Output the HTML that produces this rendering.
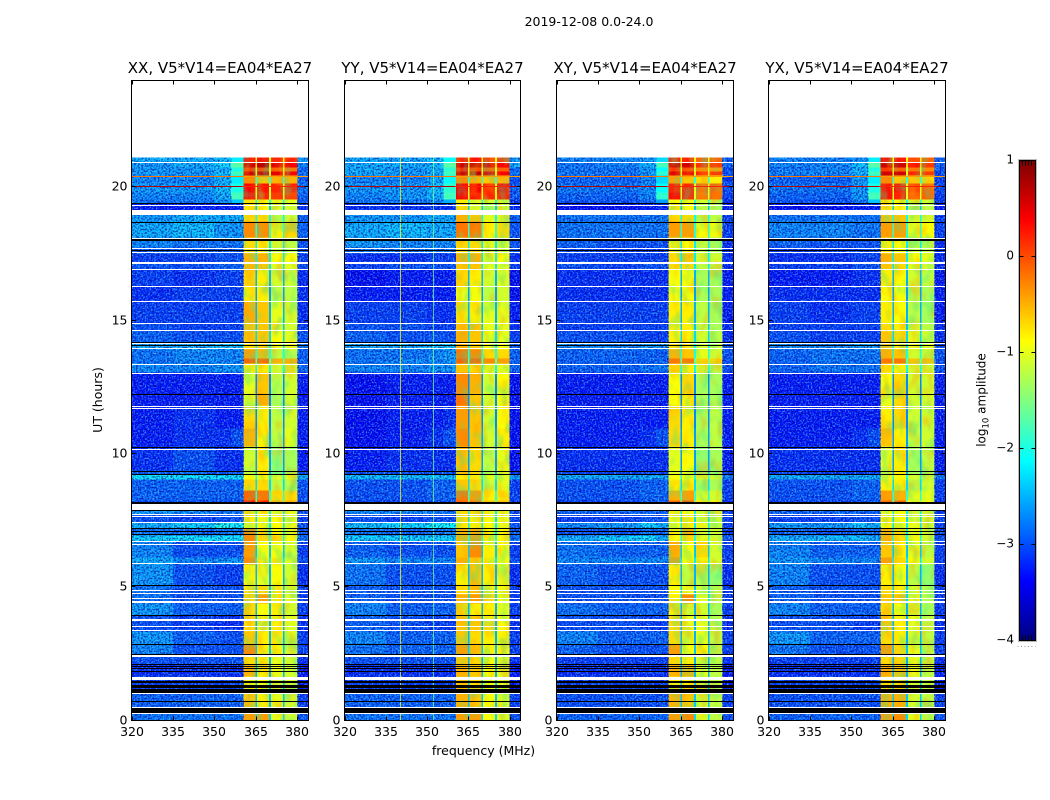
<!DOCTYPE html>
<html lang="en">
<head>
<meta charset="utf-8">
<title>2019-12-08 0.0-24.0</title>
<style>
html,body{margin:0;padding:0;background:#fff;}
svg{display:block;font-family:"DejaVu Sans","Liberation Sans",sans-serif;fill:#000;}
</style>
</head>
<body>
<svg id="chart" xmlns="http://www.w3.org/2000/svg" width="1050" height="800" viewBox="0 0 1050 800">
<defs>
<filter id="speckle" x="0" y="0" width="100%" height="100%" color-interpolation-filters="sRGB">
<feTurbulence type="fractalNoise" baseFrequency="0.62" numOctaves="1" seed="4"/>
<feColorMatrix type="matrix" values="0 0 0 0 0.4  0 0 0 0 0.9  0 0 0 0 1  5 0 0 0 -2.3"/>
</filter>
<filter id="speckle-dark" x="0" y="0" width="100%" height="100%" color-interpolation-filters="sRGB">
<feTurbulence type="fractalNoise" baseFrequency="0.55" numOctaves="1" seed="11"/>
<feColorMatrix type="matrix" values="0 0 0 0 0  0 0 0 0 0  0 0 0 0 .6  5 0 0 0 -2.3"/>
</filter>
<filter id="mottle-warm" x="0" y="0" width="100%" height="100%" color-interpolation-filters="sRGB">
<feTurbulence type="fractalNoise" baseFrequency="0.09 0.05" numOctaves="2" seed="7"/>
<feColorMatrix type="matrix" values="0 0 0 0 1  0 0 0 0 .6  0 0 0 0 0  4 0 0 0 -1.9"/>
</filter>
<filter id="mottle-cool" x="0" y="0" width="100%" height="100%" color-interpolation-filters="sRGB">
<feTurbulence type="fractalNoise" baseFrequency="0.11 0.06" numOctaves="2" seed="23"/>
<feColorMatrix type="matrix" values="0 0 0 0 .2  0 0 0 0 .9  0 0 0 0 .6  4 0 0 0 -1.9"/>
</filter>
</defs>
<text x="589" y="26" font-size="12.5" text-anchor="middle">2019-12-08 0.0-24.0</text>
<text x="483.5" y="755" font-size="12.5" text-anchor="middle">frequency (MHz)</text>
<text transform="translate(102,400) rotate(-90)" font-size="12.5" text-anchor="middle">UT (hours)</text>
<text transform="translate(985.5,400) rotate(-90)" font-size="12" text-anchor="middle">log<tspan font-size="8.5" dy="3">10</tspan><tspan dy="-3"> amplitude</tspan></text>
</svg>
<script>
// ---- axis ticks (MHz, hours, log10 amplitude) ----
const xTicks = [320, 335, 350, 365, 380];
const yTicks = [0, 5, 10, 15, 20];
const cbarTicks = [1, 0, -1, -2, -3, -4];
const panelTitles = ["XX, V5*V14=EA04*EA27", "YY, V5*V14=EA04*EA27", "XY, V5*V14=EA04*EA27", "YX, V5*V14=EA04*EA27"];
// ---- frequency bin edges (MHz) for the matrix columns ----
const freqEdges = [320, 335, 350, 356, 360.5, 365, 370, 375, 380, 384];
// ---- UT bin edges (hours) for the matrix rows, top to bottom ----
const utEdges = [21.11,20.91,20.74,20.59,20.44,20.14,19.80,19.54,19.39,19.16,18.98,18.71,18.11,17.74,17.51,17.18,16.91,16.28,15.71,14.89,14.59,14.18,13.91,13.58,13.39,13.05,12.26,11.81,10.95,10.28,9.38,9.23,9.04,8.63,8.25,8.14,7.91,7.73,7.43,7.20,6.94,6.71,6.11,5.85,5.06,4.73,4.39,3.94,3.34,2.85,2.48,2.10,1.65,1.01,0.49,0];
// ---- narrow band-edge channels (MHz) and their log10 level per row ----
const gapChannels = [[364.9,365.4],[369.8,370.4],[374.8,375.4]];
const gapValues = [-0.9,-0.7,-1.2,-0.8,-1.9,-1.0,-1.0,-2.0,-2.4,-2.4,-2.1,-1.9,-2.2,-2.3,-2.2,-2.2,-2.5,-2.6,-2.5,-2.4,-2.3,-2.2,-2.0,-1.6,-2.1,-2.7,-2.7,-2.7,-2.6,-2.6,-2.5,-2.0,-2.3,-1.9,-1.5,-1.5,-2.2,-2.3,-2.2,-2.2,-2.0,-2.4,-2.2,-2.5,-2.4,-2.3,-2.5,-2.5,-2.5,-2.4,-2.5,-2.5,-2.4,-2.4,-2.3];
// ---- log10 amplitude, one row per UT bin, one column per frequency bin ----
const xxValues = [
[-2.5,-2.5,-2.4,-2.2,0.3,0.3,0.2,0.2,-2.6],[-2.6,-2.5,-2.3,-1.7,0.6,0.7,0.5,0.4,-2.7],[-2.6,-2.6,-2.5,-2.0,0.1,0.0,-0.1,-0.2,-2.9],[-2.6,-2.6,-2.4,-1.8,0.6,0.6,0.5,0.4,-2.8],[-2.7,-2.7,-2.5,-2.2,-0.3,-0.6,-0.5,-0.5,-2.9],
[-2.6,-2.6,-2.4,-2.0,0.4,0.3,0.2,0.2,-2.8],[-2.7,-2.7,-2.5,-1.8,0.3,0.2,0.1,0.1,-2.9],[-2.8,-2.8,-2.6,-2.4,-0.8,-0.9,-1.0,-1.0,-3.0],[-3.3,-3.3,-3.3,-3.3,-0.8,-0.9,-1.1,-1.1,-3.2],[-3.3,-3.3,-3.3,-3.3,-0.8,-0.9,-1.1,-1.1,-3.2],
[-2.6,-2.5,-2.5,-2.5,-0.7,-0.7,-1.2,-1.1,-2.9],[-2.5,-2.4,-2.6,-2.6,-0.3,-0.3,-0.8,-0.7,-2.9],[-2.7,-2.8,-2.8,-2.8,-0.7,-0.8,-1.1,-1.2,-3.0],[-2.9,-2.9,-2.9,-2.9,-0.7,-0.8,-1.2,-1.2,-3.0],[-3.1,-3.1,-3.0,-3.0,-0.5,-0.5,-0.9,-0.9,-3.1],
[-3.0,-3.0,-2.9,-2.9,-0.6,-0.6,-1.0,-1.0,-3.0],[-3.1,-3.2,-3.1,-3.1,-0.7,-0.8,-1.1,-1.1,-3.2],[-3.2,-3.1,-3.1,-3.1,-0.8,-0.8,-1.2,-1.2,-3.2],[-3.1,-3.1,-3.1,-3.1,-0.5,-0.6,-1.0,-1.1,-3.2],[-3.0,-3.1,-3.1,-3.1,-0.6,-0.6,-1.0,-1.1,-3.1],
[-2.9,-3.0,-3.0,-3.0,-0.6,-0.6,-0.9,-1.0,-3.0],[-2.5,-2.5,-2.4,-2.4,-0.7,-0.7,-1.0,-1.0,-2.8],[-2.8,-2.7,-2.7,-2.7,-0.4,-0.6,-1.2,-1.2,-2.9],[-2.8,-2.7,-2.7,-2.7,-0.1,-0.1,-0.5,-0.5,-2.9],[-2.7,-2.7,-2.6,-2.6,-0.8,-0.8,-1.1,-1.1,-2.9],
[-3.3,-3.3,-3.3,-3.3,-1.0,-0.6,-1.2,-1.1,-3.3],[-3.3,-3.3,-3.3,-3.3,-1.0,-0.5,-1.3,-1.1,-3.3],[-3.3,-3.2,-3.3,-3.3,-0.7,-0.8,-1.2,-1.1,-3.3],[-3.3,-3.2,-3.2,-3.0,-0.5,-0.8,-1.2,-1.0,-3.3],[-3.2,-3.0,-3.2,-3.2,-1.1,-0.8,-1.4,-1.3,-3.3],
[-2.9,-2.9,-3.0,-3.0,-1.1,-0.8,-1.4,-1.3,-3.0],[-2.2,-2.2,-2.2,-2.2,-0.9,-0.9,-1.0,-1.0,-2.5],[-2.9,-2.9,-2.9,-2.9,-0.7,-0.7,-1.2,-1.2,-3.0],[-2.9,-2.9,-2.9,-2.9,-0.1,-0.2,-0.7,-0.7,-3.0],[-3.0,-3.0,-3.0,-3.0,0.3,0.3,-0.5,-0.5,-3.1],
[-3.0,-3.0,-3.0,-3.0,0.3,0.3,-0.5,-0.5,-3.1],[-2.6,-2.7,-2.8,-2.8,-0.8,-0.8,-1.0,-1.0,-3.0],[-3.0,-3.1,-3.0,-3.0,-0.8,-0.9,-0.9,-1.0,-3.1],[-2.5,-2.3,-2.0,-2.1,-0.9,-0.9,-0.9,-1.0,-3.0],[-2.8,-2.9,-2.8,-2.8,-0.3,-0.7,-0.9,-1.0,-3.0],
[-2.3,-2.2,-2.2,-2.2,-0.3,-0.7,-0.7,-0.9,-2.8],[-2.7,-3.0,-3.0,-3.0,-0.4,-0.9,-0.9,-1.1,-3.1],[-2.5,-2.7,-2.6,-2.6,-0.3,-0.8,-0.8,-1.0,-3.0],[-2.6,-3.0,-3.1,-3.1,-0.9,-1.0,-0.9,-1.1,-3.2],[-2.8,-3.0,-3.0,-3.0,-0.8,-0.7,-0.8,-1.0,-3.1],
[-2.8,-3.0,-3.0,-3.0,-0.7,-0.4,-0.8,-1.0,-3.1],[-2.6,-2.9,-2.9,-2.9,-0.7,-0.9,-0.8,-1.1,-3.1],[-3.0,-3.1,-3.2,-3.2,-0.7,-0.8,-0.8,-1.0,-3.2],[-2.6,-2.9,-3.0,-3.0,-0.6,-0.8,-0.8,-1.0,-3.1],[-2.7,-3.0,-3.0,-3.0,-0.3,-0.8,-0.9,-1.1,-3.1],
[-3.0,-3.0,-3.0,-3.0,-0.7,-0.8,-1.0,-1.1,-3.2],[-3.2,-3.2,-3.2,-3.2,-0.5,-0.8,-1.0,-1.1,-3.3],[-3.1,-3.1,-3.1,-3.1,-0.8,-0.9,-1.1,-1.1,-3.3],[-2.9,-2.9,-2.9,-2.9,-0.6,-0.8,-1.0,-1.1,-3.1],[-2.8,-2.8,-2.8,-2.8,-0.4,-0.4,-1.0,-1.1,-3.0]
];
const yyValues = [
[-2.5,-2.5,-2.4,-2.1,0.2,0.3,0.1,0.1,-2.6],[-2.5,-2.5,-2.4,-1.7,0.6,0.7,0.5,0.4,-2.5],[-2.5,-2.6,-2.5,-1.9,0.2,0.1,-0.1,-0.1,-2.9],[-2.5,-2.6,-2.5,-1.8,0.6,0.7,0.5,0.4,-2.8],[-2.7,-2.7,-2.5,-2.1,-0.3,-0.5,-0.6,-0.5,-3.0],
[-2.6,-2.6,-2.4,-1.9,0.4,0.4,0.2,0.3,-2.9],[-2.7,-2.6,-2.5,-1.8,0.4,0.3,0.2,0.2,-3.0],[-2.8,-2.8,-2.7,-2.5,-0.8,-1.0,-1.0,-1.1,-3.1],[-3.2,-3.2,-3.2,-3.2,-0.7,-1.0,-1.2,-1.1,-3.2],[-3.2,-3.2,-3.2,-3.2,-0.7,-1.0,-1.2,-1.1,-3.2],
[-2.6,-2.6,-2.5,-2.5,-0.5,-0.6,-1.0,-1.0,-2.9],[-2.5,-2.4,-2.5,-2.5,-0.2,-0.2,-0.8,-0.7,-3.0],[-2.6,-2.7,-2.7,-2.7,-0.7,-0.7,-1.0,-1.1,-3.0],[-2.8,-2.8,-2.8,-2.8,-0.7,-0.7,-1.1,-1.1,-3.0],[-3.2,-3.2,-3.1,-3.1,-0.5,-0.5,-0.9,-0.9,-3.2],
[-3.1,-3.0,-3.0,-3.0,-0.6,-0.6,-1.0,-1.0,-3.1],[-3.4,-3.3,-3.3,-3.3,-0.7,-0.8,-1.1,-1.0,-3.4],[-3.3,-3.3,-3.3,-3.3,-1.0,-0.9,-1.2,-1.1,-3.4],[-3.1,-3.1,-3.2,-3.2,-0.8,-0.8,-1.0,-1.0,-3.3],[-3.0,-3.0,-3.1,-3.1,-0.6,-0.6,-1.0,-1.0,-3.2],
[-2.9,-3.0,-3.0,-3.0,-0.5,-0.6,-0.9,-1.0,-3.1],[-2.5,-2.5,-2.4,-2.4,-0.5,-0.6,-0.9,-0.9,-2.9],[-2.8,-2.8,-2.7,-2.6,-0.2,-0.3,-0.7,-0.7,-2.9],[-2.8,-2.7,-2.7,-2.6,-0.1,-0.1,-0.3,-0.4,-2.9],[-2.7,-2.7,-2.6,-2.6,-0.6,-0.7,-1.0,-1.0,-2.9],
[-3.4,-3.3,-3.3,-3.3,-0.3,-0.5,-1.1,-0.9,-3.4],[-3.4,-3.3,-3.3,-3.3,-0.2,-0.6,-1.1,-0.9,-3.4],[-3.4,-3.3,-3.3,-3.2,-0.4,-0.6,-1.1,-0.9,-3.4],[-3.4,-3.3,-3.2,-3.0,-0.3,-0.6,-1.1,-0.8,-3.4],[-3.3,-3.2,-3.2,-3.2,-0.6,-0.7,-1.2,-1.0,-3.4],
[-3.0,-3.0,-3.0,-3.0,-0.6,-0.7,-1.2,-1.0,-3.2],[-2.4,-2.4,-2.4,-2.4,-0.8,-0.8,-1.0,-1.0,-2.6],[-3.0,-3.0,-2.9,-2.9,-0.6,-0.7,-1.1,-1.0,-3.1],[-3.0,-3.0,-2.9,-2.9,-0.2,-0.4,-0.8,-0.8,-3.1],[-3.1,-3.1,-3.0,-3.0,-0.1,-0.2,-0.6,-0.6,-3.1],
[-3.1,-3.1,-3.0,-3.0,-0.1,-0.2,-0.6,-0.6,-3.1],[-2.7,-2.7,-2.8,-2.8,-0.7,-0.7,-0.9,-1.0,-3.0],[-3.0,-3.1,-3.0,-3.0,-0.7,-0.8,-0.9,-1.0,-3.1],[-2.4,-2.3,-2.1,-2.1,-0.8,-0.8,-0.9,-1.0,-3.0],[-2.8,-2.9,-2.8,-2.8,-0.5,-0.5,-0.9,-0.9,-3.0],
[-2.3,-2.3,-2.3,-2.3,-0.5,-0.4,-0.8,-0.9,-2.8],[-2.9,-3.0,-3.0,-3.0,-0.6,-0.3,-0.8,-0.9,-3.1],[-2.6,-2.7,-2.7,-2.7,-0.5,-0.6,-0.8,-0.9,-3.0],[-2.8,-3.0,-3.0,-3.0,-0.8,-0.6,-0.8,-1.0,-3.2],[-2.9,-3.0,-3.0,-3.0,-0.7,-0.6,-0.8,-0.9,-3.1],
[-2.9,-3.0,-3.0,-3.0,-0.5,-0.4,-0.7,-0.9,-3.1],[-2.7,-2.9,-2.9,-2.9,-0.7,-0.8,-0.8,-1.0,-3.1],[-2.9,-3.0,-3.1,-3.1,-0.6,-0.6,-0.8,-0.9,-3.2],[-2.7,-2.9,-2.9,-2.9,-0.6,-0.7,-0.8,-0.9,-3.1],[-2.8,-2.9,-2.9,-2.9,-0.4,-0.6,-0.8,-0.9,-3.1],
[-3.0,-3.0,-3.0,-3.0,-0.6,-0.7,-0.9,-1.0,-3.2],[-3.2,-3.2,-3.2,-3.2,-0.5,-0.6,-0.9,-1.0,-3.3],[-3.1,-3.1,-3.1,-3.1,-0.6,-0.7,-0.9,-1.0,-3.3],[-2.9,-2.9,-2.9,-2.9,-0.5,-0.6,-0.9,-1.0,-3.1],[-2.8,-2.8,-2.8,-2.8,-0.4,-0.4,-0.9,-1.0,-3.0]
];
const xyValues = [
[-2.7,-2.7,-2.6,-2.3,0.2,0.2,-0.1,-0.1,-2.9],[-2.8,-2.7,-2.5,-1.8,0.6,0.6,0.2,0.1,-2.9],[-2.8,-2.8,-2.6,-2.1,0.1,0.0,-0.3,-0.4,-3.0],[-2.8,-2.8,-2.6,-1.9,0.5,0.5,0.2,0.1,-3.0],[-2.9,-2.9,-2.7,-2.3,-0.4,-0.6,-0.7,-0.8,-3.1],
[-2.8,-2.8,-2.7,-2.1,0.2,0.2,-0.1,-0.1,-3.0],[-2.9,-2.9,-2.7,-1.9,0.3,0.2,-0.2,-0.1,-3.1],[-3.0,-3.0,-2.9,-2.6,-0.9,-0.9,-1.1,-1.2,-3.2],[-3.4,-3.4,-3.3,-3.3,-0.8,-0.9,-1.2,-1.3,-3.3],[-3.4,-3.4,-3.3,-3.3,-0.8,-0.9,-1.2,-1.3,-3.3],
[-2.8,-2.8,-2.8,-2.8,-0.7,-0.7,-1.2,-1.2,-3.1],[-2.8,-2.8,-2.8,-2.8,-0.4,-0.4,-0.9,-0.9,-3.1],[-2.9,-3.0,-3.0,-3.0,-0.8,-0.9,-1.2,-1.3,-3.2],[-3.0,-3.1,-3.1,-3.1,-0.8,-0.9,-1.2,-1.3,-3.2],[-3.1,-3.1,-3.1,-3.1,-0.7,-0.6,-1.1,-1.1,-3.2],
[-3.0,-3.1,-3.0,-3.0,-0.7,-0.7,-1.2,-1.2,-3.2],[-3.2,-3.2,-3.2,-3.2,-0.9,-0.9,-1.3,-1.3,-3.3],[-3.2,-3.2,-3.2,-3.2,-0.9,-0.9,-1.3,-1.3,-3.3],[-3.1,-3.1,-3.1,-3.1,-0.8,-0.8,-1.2,-1.3,-3.3],[-3.1,-3.1,-3.1,-3.1,-0.8,-0.8,-1.2,-1.3,-3.2],
[-3.0,-3.0,-3.1,-3.1,-0.8,-0.8,-1.1,-1.2,-3.2],[-2.7,-2.7,-2.6,-2.6,-0.7,-0.8,-1.1,-1.1,-3.0],[-2.9,-2.9,-2.9,-2.9,-0.5,-0.6,-1.0,-1.1,-3.0],[-2.9,-2.9,-2.9,-2.9,-0.2,-0.2,-0.7,-0.7,-3.0],[-2.9,-2.9,-2.8,-2.8,-0.7,-0.8,-1.1,-1.2,-3.0],
[-3.3,-3.3,-3.3,-3.3,-0.9,-0.7,-1.3,-1.3,-3.3],[-3.3,-3.3,-3.3,-3.3,-0.9,-0.8,-1.3,-1.3,-3.3],[-3.3,-3.3,-3.3,-3.3,-0.7,-0.8,-1.3,-1.2,-3.3],[-3.3,-3.3,-3.2,-3.0,-0.7,-0.8,-1.3,-1.2,-3.3],[-3.2,-3.2,-3.2,-3.2,-1.0,-0.9,-1.4,-1.3,-3.3],
[-3.1,-3.1,-3.1,-3.1,-1.0,-0.9,-1.4,-1.3,-3.2],[-2.5,-2.5,-2.5,-2.5,-0.9,-0.9,-1.1,-1.1,-2.8],[-3.0,-3.0,-2.9,-2.9,-0.8,-0.8,-1.3,-1.3,-3.1],[-3.0,-3.0,-2.9,-2.9,-0.5,-0.4,-1.1,-1.1,-3.1],[-3.1,-3.1,-3.0,-3.0,-0.1,0.0,-0.8,-0.8,-3.2],
[-3.1,-3.1,-3.0,-3.0,-0.1,0.0,-0.8,-0.8,-3.2],[-2.9,-2.9,-2.9,-2.9,-0.9,-0.9,-1.1,-1.1,-3.1],[-3.1,-3.1,-3.0,-3.0,-0.9,-0.8,-1.1,-1.1,-3.1],[-2.7,-2.6,-2.3,-2.5,-0.9,-0.8,-1.0,-1.1,-3.1],[-3.0,-3.0,-2.9,-2.9,-0.8,-0.5,-1.1,-1.1,-3.1],
[-2.5,-2.3,-2.2,-2.5,-0.9,-0.7,-1.0,-1.1,-3.0],[-2.8,-2.9,-2.9,-2.9,-0.5,-0.9,-0.7,-1.1,-3.1],[-2.7,-2.7,-2.7,-2.7,-0.4,-0.9,-0.8,-1.1,-3.1],[-2.9,-3.0,-3.0,-3.0,-0.8,-1.2,-1.2,-1.4,-3.2],[-3.0,-3.0,-3.0,-3.0,-0.9,-1.0,-1.1,-1.2,-3.1],
[-3.0,-3.0,-3.0,-3.0,-0.8,-0.3,-1.0,-1.2,-3.1],[-2.8,-2.9,-2.9,-2.9,-0.8,-1.1,-1.1,-1.3,-3.1],[-3.0,-3.0,-3.1,-3.1,-0.7,-1.0,-1.0,-1.2,-3.2],[-2.7,-2.9,-2.9,-2.9,-0.7,-1.0,-1.0,-1.2,-3.1],[-2.9,-3.0,-3.0,-3.0,-0.4,-0.9,-0.9,-1.2,-3.1],
[-3.1,-3.1,-3.1,-3.1,-0.7,-0.8,-1.1,-1.2,-3.2],[-3.2,-3.2,-3.2,-3.2,-0.5,-0.5,-1.0,-1.2,-3.3],[-3.1,-3.1,-3.1,-3.1,-0.8,-0.8,-1.1,-1.2,-3.3],[-3.0,-3.0,-3.0,-3.0,-0.5,-0.6,-1.1,-1.2,-3.1],[-2.9,-2.9,-2.9,-2.9,-0.4,-0.3,-1.0,-1.2,-3.0]
];
const yxValues = [
[-2.7,-2.7,-2.6,-2.2,0.3,0.3,0.0,-0.1,-2.9],[-2.7,-2.7,-2.4,-1.7,0.6,0.6,0.3,0.1,-2.9],[-2.8,-2.7,-2.5,-2.0,0.1,-0.1,-0.2,-0.3,-3.0],[-2.7,-2.7,-2.5,-1.8,0.6,0.6,0.2,0.1,-3.0],[-2.9,-2.9,-2.6,-2.2,-0.3,-0.6,-0.6,-0.7,-3.1],
[-2.8,-2.8,-2.6,-2.0,0.3,0.3,0.0,-0.1,-3.0],[-2.9,-2.9,-2.6,-1.8,0.3,0.2,-0.1,-0.1,-3.1],[-3.0,-3.0,-2.8,-2.4,-0.8,-0.9,-1.0,-1.1,-3.1],[-3.4,-3.4,-3.3,-3.3,-0.8,-0.9,-1.2,-1.2,-3.3],[-3.4,-3.4,-3.3,-3.3,-0.8,-0.9,-1.2,-1.2,-3.3],
[-2.8,-2.8,-2.8,-2.8,-0.6,-0.6,-1.1,-1.1,-3.1],[-2.7,-2.7,-2.8,-2.8,-0.4,-0.4,-1.0,-0.9,-3.1],[-2.9,-3.0,-3.0,-3.0,-0.8,-0.9,-1.2,-1.2,-3.2],[-3.1,-3.1,-3.0,-3.0,-0.8,-0.9,-1.1,-1.2,-3.2],[-3.2,-3.2,-3.1,-3.1,-0.5,-0.6,-0.9,-1.0,-3.2],
[-3.1,-3.1,-3.0,-3.0,-0.6,-0.7,-1.0,-1.1,-3.2],[-3.3,-3.3,-3.2,-3.2,-0.8,-0.9,-1.1,-1.2,-3.3],[-3.2,-3.2,-3.2,-3.2,-0.9,-0.9,-1.2,-1.3,-3.3],[-3.1,-3.2,-3.1,-3.1,-0.8,-0.9,-1.2,-1.3,-3.3],[-3.1,-3.1,-3.1,-3.1,-0.7,-0.8,-1.1,-1.2,-3.2],
[-3.0,-3.1,-3.1,-3.1,-0.6,-0.7,-1.0,-1.1,-3.2],[-2.7,-2.7,-2.6,-2.6,-0.6,-0.8,-1.0,-1.0,-3.0],[-2.9,-2.8,-2.8,-2.8,-0.5,-0.6,-1.1,-1.1,-3.0],[-2.9,-2.8,-2.8,-2.8,-0.2,-0.2,-0.6,-0.6,-3.0],[-2.9,-2.8,-2.8,-2.8,-0.7,-0.8,-1.1,-1.1,-3.0],
[-3.3,-3.3,-3.3,-3.3,-0.9,-0.7,-1.1,-1.1,-3.3],[-3.3,-3.3,-3.3,-3.3,-1.0,-0.7,-1.1,-1.1,-3.3],[-3.3,-3.3,-3.3,-3.3,-0.8,-0.7,-1.1,-1.1,-3.3],[-3.3,-3.3,-3.2,-3.0,-0.6,-0.8,-1.2,-1.1,-3.3],[-3.2,-3.2,-3.2,-3.2,-1.0,-0.8,-1.3,-1.2,-3.3],
[-3.1,-3.1,-3.1,-3.1,-1.0,-0.8,-1.3,-1.2,-3.2],[-2.5,-2.5,-2.5,-2.5,-0.9,-0.9,-1.1,-1.1,-2.8],[-3.0,-3.0,-2.9,-2.9,-0.8,-0.8,-1.2,-1.1,-3.1],[-3.0,-3.0,-2.9,-2.9,-0.4,-0.5,-1.0,-1.0,-3.1],[-3.1,-3.1,-3.0,-3.0,-0.1,-0.1,-0.9,-0.9,-3.2],
[-3.1,-3.1,-3.0,-3.0,-0.1,-0.1,-0.9,-0.9,-3.2],[-2.9,-2.9,-2.9,-2.9,-0.9,-0.9,-1.1,-1.1,-3.1],[-3.1,-3.1,-3.0,-3.0,-0.8,-0.9,-1.1,-1.1,-3.1],[-2.6,-2.6,-2.4,-2.5,-0.9,-0.9,-1.0,-1.1,-3.1],[-2.9,-3.0,-2.9,-2.9,-0.5,-0.7,-1.0,-1.1,-3.1],
[-2.5,-2.4,-2.4,-2.5,-0.5,-0.7,-0.9,-1.1,-3.0],[-2.7,-2.9,-2.9,-2.9,-0.6,-0.8,-1.0,-1.2,-3.1],[-2.6,-2.7,-2.7,-2.7,-0.4,-0.7,-0.9,-1.1,-3.1],[-2.7,-3.0,-3.0,-3.0,-0.8,-0.9,-1.2,-1.4,-3.2],[-2.9,-3.0,-3.0,-3.0,-0.7,-0.8,-1.1,-1.2,-3.1],
[-2.9,-3.0,-3.0,-3.0,-0.6,-0.6,-1.0,-1.2,-3.1],[-2.7,-2.9,-2.9,-2.9,-0.7,-0.9,-1.1,-1.3,-3.1],[-3.0,-3.0,-3.1,-3.1,-0.6,-0.8,-1.0,-1.2,-3.2],[-2.6,-2.9,-2.9,-2.9,-0.7,-0.8,-1.0,-1.2,-3.1],[-2.8,-3.0,-3.0,-3.0,-0.4,-0.7,-1.0,-1.2,-3.1],
[-3.1,-3.1,-3.1,-3.1,-0.7,-0.7,-1.0,-1.2,-3.2],[-3.2,-3.2,-3.2,-3.2,-0.5,-0.6,-1.0,-1.2,-3.3],[-3.1,-3.1,-3.1,-3.1,-0.7,-0.7,-1.1,-1.2,-3.3],[-3.0,-3.0,-3.0,-3.0,-0.5,-0.5,-1.1,-1.2,-3.1],[-2.9,-2.9,-2.9,-2.9,-0.4,-0.3,-1.0,-1.2,-3.0]
];
// ---- flagged time ranges [ut-start, ut-end] in hours ----
const whiteGaps = [[20.95,20.90],[19.34,19.30],[19.16,18.98],[18.11,18.07],[17.72,17.68],[17.57,17.53],[17.18,17.12],[16.92,16.88],[16.28,16.24],[15.72,15.68],[14.91,14.87],[14.63,14.59],[14.14,14.10],[13.96,13.92],[13.36,13.32],[13.03,12.99],[11.81,11.77],[11.73,11.69],[10.18,10.14],[8.12,7.91],[7.74,7.70],[7.68,7.64],[7.43,7.39],[6.74,6.70],[6.62,6.58],[5.90,5.86],[4.88,4.84],[4.79,4.75],[4.60,4.56],[4.50,4.42],[3.79,3.72],[3.54,3.50],[3.38,3.34],[2.44,2.37],[1.65,1.54],[1.05,1.01],[0.52,0.48],[0.30,0.26]];
const blackGaps = [[19.41,19.37],[18.71,18.67],[18.04,17.96],[17.63,17.59],[14.20,14.16],[14.08,14.04],[12.24,12.20],[10.27,10.23],[9.37,9.33],[9.24,9.20],[8.21,8.14],[7.91,7.87],[7.22,7.18],[7.11,7.07],[7.01,6.97],[5.08,5.04],[3.96,3.92],[2.88,2.84],[2.50,2.46],[2.12,2.08],[2.05,2.01],[1.97,1.93],[1.87,1.83],[1.50,1.43],[1.35,1.24],[1.20,1.06],[0.73,0.69],[0.48,0.30]];
// ---- interference: [ut, f-start, f-end, log10 level] in all panels ----
const rfiLines = [[20.42,320,360.5,-0.2],[20.42,360.5,384,-0.4],[20.04,320,360,0.75],[20.04,360,380,0.2],[20.04,380,384,0.75],[13.02,320,345,-0.3],[13.02,345,358,-0.6]];
// ---- interference channels in the YY panel: [MHz, log10 level] ----
const yyRfiChannels = [[340,-0.9],[352,-1.6]];
</script>
<script>
const NS = 'http://www.w3.org/2000/svg';
const svg = document.getElementById('chart');
const matrices = [xxValues, yyValues, xyValues, yxValues];
const panelKeys = ['xx', 'yy', 'xy', 'yx'];
const panelLefts = [131.5, 344.5, 556.5, 768.5];
const panelWidths = [177, 176, 177, 177];
const plotTop = 80.5;
const plotBottom = 720.5;
const F_MIN = 320, F_MAX = 384, UT_MIN = 0, UT_MAX = 24;

function clamp(v) { return Math.max(0, Math.min(1, v)); }
function jet(v) {
  const t = clamp((v + 4) / 5);
  const r = clamp(1.5 - Math.abs(4 * t - 3));
  const g = clamp(1.5 - Math.abs(4 * t - 2));
  const b = clamp(1.5 - Math.abs(4 * t - 1));
  return 'rgb(' + Math.round(r * 255) + ',' + Math.round(g * 255) + ',' + Math.round(b * 255) + ')';
}
function yScale(ut) { return plotBottom - (ut - UT_MIN) / (UT_MAX - UT_MIN) * (plotBottom - plotTop); }
function mk(parent, tag, attrs) {
  const el = document.createElementNS(NS, tag);
  for (const k in attrs) el.setAttribute(k, attrs[k]);
  parent.appendChild(el);
  return el;
}

panelKeys.forEach(function (key, p) {
  const left = panelLefts[p];
  const panelWidth = panelWidths[p];
  const values = matrices[p];
  function xScale(f) { return left + (f - F_MIN) / (F_MAX - F_MIN) * panelWidth; }
  const g = mk(svg, 'g', {});
  
  
  const heat = mk(g, 'g', {'shape-rendering': 'crispEdges'});
  
  

  values.forEach(function (row, r) {
    const y0 = yScale(utEdges[r]);
    const y1 = yScale(utEdges[r + 1]);
    row.forEach(function (v, c) {
      const x0 = xScale(freqEdges[c]);
      const x1 = xScale(freqEdges[c + 1]);
      const cell = mk(heat, 'rect', {x: x0, y: y0, width: x1 - x0, height: y1 - y0 + 0.5, fill: jet(v)});
      
      
    });
  });

  const dataTop = yScale(utEdges[0]);
  const dataHeight = plotBottom - dataTop;

  // mottled texture inside the bright bands
  const bx0 = xScale(freqEdges[4]);
  const bx1 = xScale(freqEdges[8]);
  const warm = mk(g, 'rect', {x: bx0, y: dataTop, width: bx1 - bx0, height: dataHeight, filter: 'url(#mottle-warm)', opacity: 0.35});
  
  
  const cool = mk(g, 'rect', {x: bx0, y: dataTop, width: bx1 - bx0, height: dataHeight, filter: 'url(#mottle-cool)', opacity: 0.3});
  
  

  // narrow band-edge channels above the band texture
  values.forEach(function (row, r) {
    const y0 = yScale(utEdges[r]);
    const y1 = yScale(utEdges[r + 1]);
    gapChannels.forEach(function (ch) {
      const x0 = xScale(ch[0]);
      const x1 = xScale(ch[1]);
      const cell = mk(g, 'rect', {x: x0, y: y0, width: Math.max(1, x1 - x0), height: y1 - y0 + 0.5, fill: jet(gapValues[r]), 'shape-rendering': 'crispEdges'});
      
      
    });
  });

  // noise texture over the background channels (smooth shoulder above 19.39 h)
  [[F_MIN, freqEdges[3], utEdges[0], utEdges[8]], [F_MIN, freqEdges[4], utEdges[8], 0], [freqEdges[8], F_MAX, utEdges[0], 0]].forEach(function (span) {
    const a = xScale(span[0]);
    const b = xScale(span[1]);
    const t0 = yScale(span[2]);
    const t1 = yScale(span[3]);
    const light = mk(g, 'rect', {x: a, y: t0, width: b - a, height: t1 - t0, filter: 'url(#speckle)', opacity: 0.5});
    
    
    const dark = mk(g, 'rect', {x: a, y: t0, width: b - a, height: t1 - t0, filter: 'url(#speckle-dark)', opacity: 0.6});
    
    
  });

  if (key === 'yy') {
    yyRfiChannels.forEach(function (ch) {
      const line = mk(g, 'rect', {x: Math.round(xScale(ch[0])), y: dataTop, width: 1, height: dataHeight, fill: jet(ch[1]), 'shape-rendering': 'crispEdges', opacity: 0.75});
      
      
    });
  }

  rfiLines.forEach(function (l) {
    const x0 = xScale(l[1]);
    const x1 = xScale(l[2]);
    const line = mk(g, 'rect', {x: x0, y: Math.round(yScale(l[0])), width: x1 - x0, height: 1, fill: jet(l[3]), 'shape-rendering': 'crispEdges'});
    
    
  });

  whiteGaps.forEach(function (gap) {
    const y0 = Math.round(yScale(gap[0]));
    const h = Math.max(1, Math.round(yScale(gap[1]) - yScale(gap[0])));
    const bar = mk(g, 'rect', {x: left, y: y0, width: panelWidth, height: h, fill: '#fff', 'shape-rendering': 'crispEdges'});
    
    
  });
  blackGaps.forEach(function (gap) {
    const y0 = Math.round(yScale(gap[0]));
    const h = Math.max(1, Math.round(yScale(gap[1]) - yScale(gap[0])));
    const bar = mk(g, 'rect', {x: left, y: y0, width: panelWidth, height: h, fill: '#000', 'shape-rendering': 'crispEdges'});
    
    
  });

  const frame = mk(g, 'rect', {x: left, y: plotTop, width: panelWidth, height: plotBottom - plotTop, fill: 'none', stroke: '#000', 'stroke-width': 1, 'shape-rendering': 'crispEdges'});
  
  

  xTicks.forEach(function (t) {
    const x = Math.round(xScale(t)) + 0.5;
    const tb = mk(g, 'line', {x1: x, x2: x, y1: plotBottom, y2: plotBottom - 4, stroke: '#000', 'shape-rendering': 'crispEdges'});
    
    
    const tt = mk(g, 'line', {x1: x, x2: x, y1: plotTop, y2: plotTop + 4, stroke: '#000', 'shape-rendering': 'crispEdges'});
    
    
    const lab = mk(g, 'text', {x: x - 0.5, y: 736, 'font-size': 12.5, 'text-anchor': 'middle'});
    
    
    lab.textContent = t;
  });
  yTicks.forEach(function (t) {
    const y = Math.round(yScale(t)) - 0.5;
    const tl = mk(g, 'line', {x1: left, x2: left + 4, y1: y, y2: y, stroke: '#000', 'shape-rendering': 'crispEdges'});
    
    
    const tr = mk(g, 'line', {x1: left + panelWidth, x2: left + panelWidth - 4, y1: y, y2: y, stroke: '#000', 'shape-rendering': 'crispEdges'});
    
    
    const lab = mk(g, 'text', {x: left - 4, y: y + 4, 'font-size': 12.5, 'text-anchor': 'end'});
    
    
    lab.textContent = t;
  });

  const title = mk(g, 'text', {x: left + panelWidth / 2, y: 73, 'font-size': 15, 'text-anchor': 'middle'});
  
  
  title.textContent = panelTitles[p];
});

// ---- colorbar ----
const cbarX = 1019.5, cbarW = 16, cbarTop = 160.5, cbarBottom = 640.5;
const CB_MIN = -4, CB_MAX = 1;
function cbY(v) { return cbarBottom - (v - CB_MIN) / (CB_MAX - CB_MIN) * (cbarBottom - cbarTop); }
const cb = mk(svg, 'g', {});


const cbHalo = mk(cb, 'rect', {x: cbarX - 1, y: cbarTop - 1, width: cbarW + 2, height: cbarBottom - cbarTop + 2, fill: 'none', stroke: '#bbb', 'shape-rendering': 'crispEdges'});


for (let i = 0; i < 240; i++) {
  const v0 = CB_MIN + (CB_MAX - CB_MIN) * i / 240;
  const v1 = CB_MIN + (CB_MAX - CB_MIN) * (i + 1) / 240;
  const seg = mk(cb, 'rect', {x: cbarX, y: cbY(v1), width: cbarW, height: cbY(v0) - cbY(v1) + 0.5, fill: jet((v0 + v1) / 2), 'shape-rendering': 'crispEdges'});
  
  
}
const cbFrame = mk(cb, 'rect', {x: cbarX, y: cbarTop, width: cbarW, height: cbarBottom - cbarTop, fill: 'none', stroke: '#000', 'shape-rendering': 'crispEdges'});


cbarTicks.forEach(function (t) {
  const y = Math.round(cbY(t)) - 0.5;
  const a = mk(cb, 'line', {x1: cbarX, x2: cbarX + 4, y1: y, y2: y, stroke: '#000', 'shape-rendering': 'crispEdges'});
  
  
  const b = mk(cb, 'line', {x1: cbarX + cbarW, x2: cbarX + cbarW - 4, y1: y, y2: y, stroke: '#000', 'shape-rendering': 'crispEdges'});
  
  
  const lab = mk(cb, 'text', {x: 1014, y: y + 3, 'font-size': 12, 'text-anchor': 'end'});
  
  
  lab.textContent = String(t).replace('-', '\u2212');
});
[3, 6, 9, 12].forEach(function (off) {
  const top = mk(cb, 'line', {x1: cbarX + off, x2: cbarX + off, y1: cbarTop, y2: cbarTop + 5, stroke: '#000', 'shape-rendering': 'crispEdges'});
  
  
  const bot = mk(cb, 'line', {x1: cbarX + off, x2: cbarX + off, y1: cbarBottom, y2: cbarBottom - 5, stroke: '#000', 'shape-rendering': 'crispEdges'});
  
  
});
const dots = mk(cb, 'line', {x1: 1017.5, x2: 1035.5, y1: 646.5, y2: 646.5, stroke: '#999', 'stroke-dasharray': '1 2.5', 'shape-rendering': 'crispEdges'});


</script>
</body>
</html>
